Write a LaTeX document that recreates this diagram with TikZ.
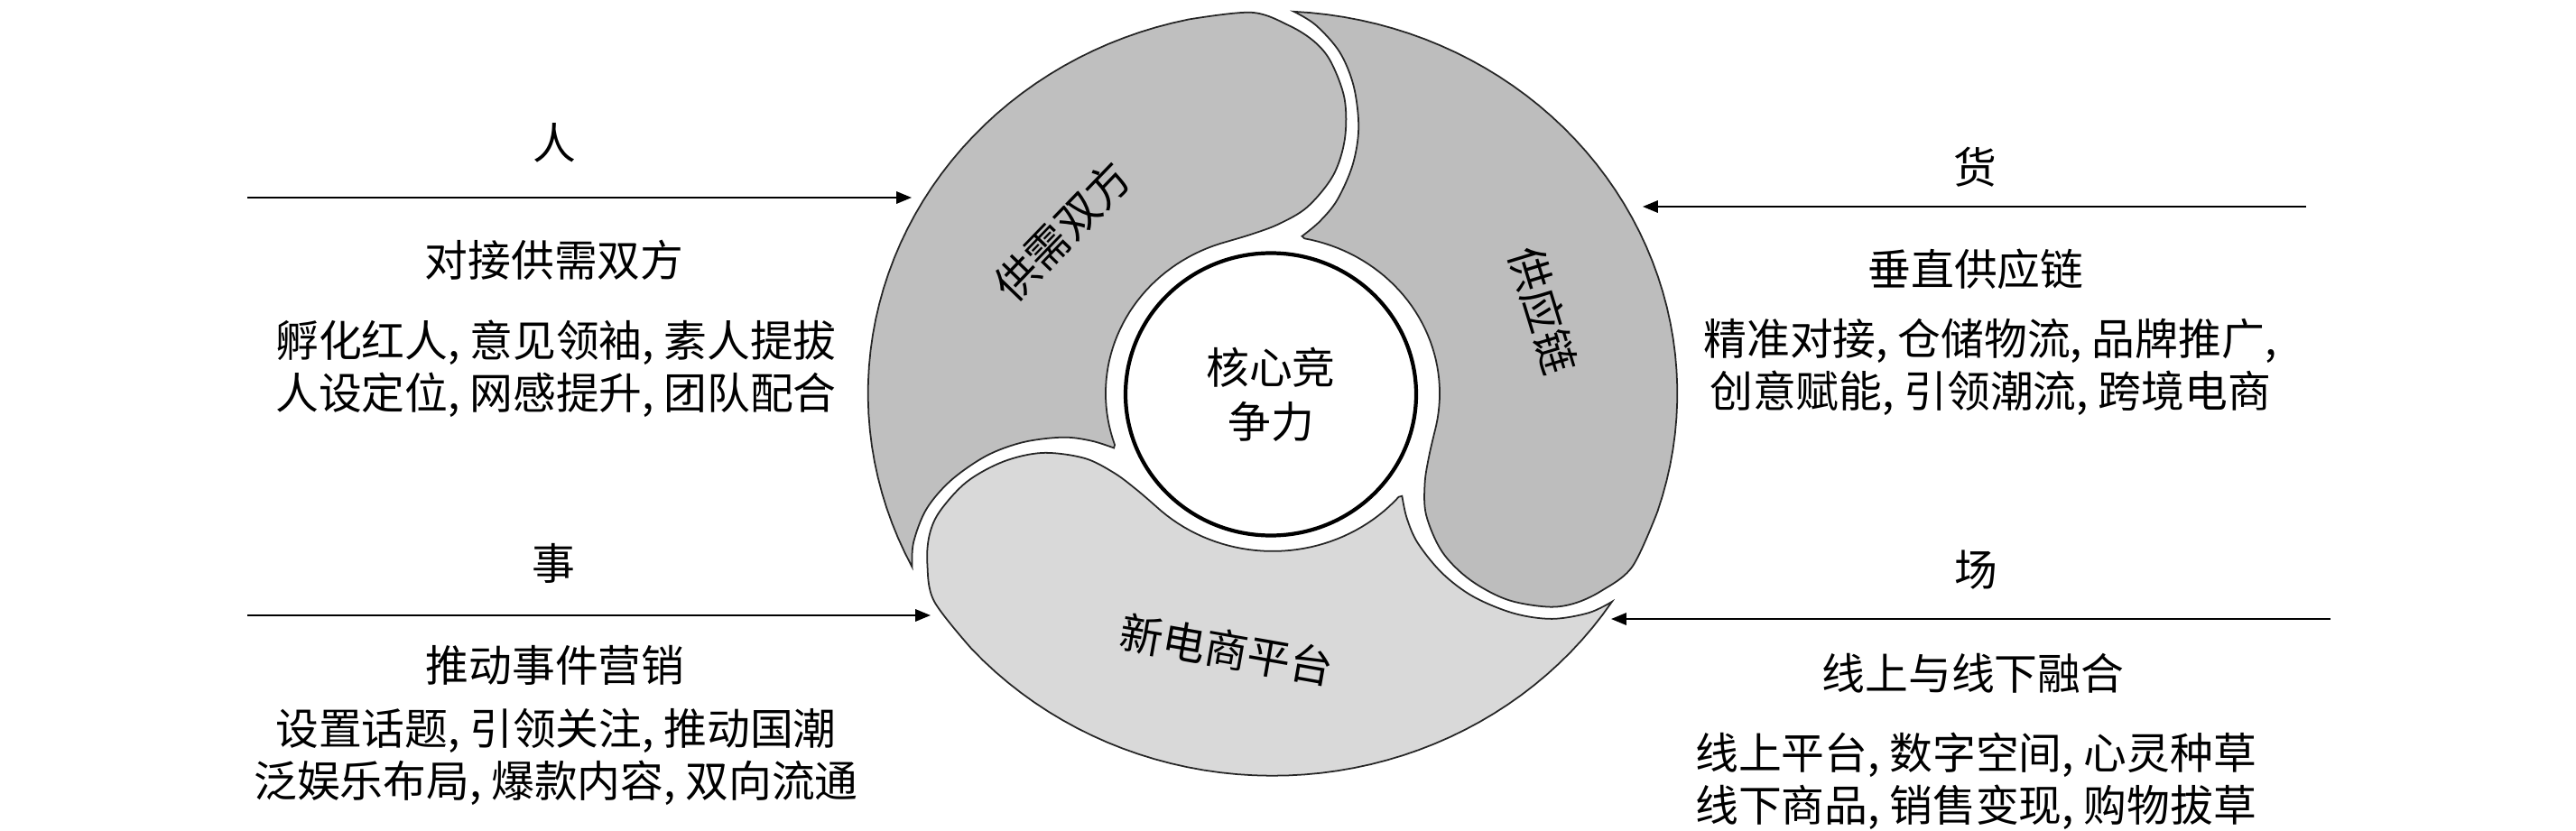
\documentclass[tikz,border=0pt]{standalone}
\usepackage{fontspec}
\setmainfont{Noto Sans CJK SC}
\usetikzlibrary{arrows.meta, shapes.geometric}

% one blade of the swirl, centre at origin, radius in px
\newcommand{\swirlpiece}{%
  plot[domain=327:222, samples=45] (\x:424)
  -- plot[smooth, tension=0.55] coordinates {(222:424) (213:423) (207.5:408) (203.5:392) (200.5:372) (197:335) (195:292) (195.3:250) (200:210) (208:188) (217:178) (226:175)}
  -- plot[domain=226:319, samples=40] (\x:175)
  -- plot[smooth, tension=0.55] coordinates {(320:177) (315.5:197) (312.5:225) (311.7:267) (313:308) (316:351) (319.5:385) (323.7:411) (327:424)}
  -- cycle}

\begin{document}
\begin{tikzpicture}[
    lbl/.style={font=\fontsize{13.6pt}{16.5pt}\selectfont, inner sep=0pt, align=center},
    flow/.style={-{Triangle[length=4.8pt,width=3.8pt]}, line width=0.6pt},
    blade/.style={draw=black!85, line width=0.5pt}]
\useasboundingbox (0,0) rectangle (28.54,9.2);

% swirl
\begin{scope}[shift={(14.10,4.84)}, xscale=1.058, x=0.01cm, y=0.01cm]
  \begin{scope}[rotate=0]
    \filldraw[blade, fill=black!15] \swirlpiece;
  \end{scope}
  \begin{scope}[rotate=120]
    \filldraw[blade, fill=black!26] \swirlpiece;
  \end{scope}
  \begin{scope}[rotate=240]
    \filldraw[blade, fill=black!25] \swirlpiece;
  \end{scope}
\end{scope}

\node[ellipse, draw, line width=1.2pt, fill=white, minimum width=3.22cm, minimum height=3.13cm, lbl, font=\fontsize{13.6pt}{17pt}\selectfont] (core) at (14.08,4.83) {核心竞\\争力};

\node[lbl, rotate=46] (gxsf) at (11.77,6.64) {供需双方};
\node[lbl, rotate=-73] (gyl) at (17.10,5.76) {供应链};
\node[lbl, rotate=-10] (xdsp) at (13.59,2.00) {新电商平台};

% ren
\node[lbl] (ren) at (6.14,7.62) {人};
\coordinate (renA) at (2.74,7.01);
\coordinate (renB) at (10.10,7.01);
\draw[flow] (renA) -- (renB);
\node[lbl] (ren1) at (6.14,6.32) {对接供需双方};
\node[lbl] (ren2) at (6.16,5.115) {孵化红人, 意见领袖, 素人提拔\\人设定位, 网感提升, 团队配合};

% huo
\node[lbl] (huo) at (21.88,7.35) {货};
\coordinate (huoA) at (25.55,6.91);
\coordinate (huoB) at (18.20,6.91);
\draw[flow] (huoA) -- (huoB);
\node[lbl] (huo1) at (21.89,6.22) {垂直供应链};
\node[lbl] (huo2) at (22.05,5.135) {精准对接, 仓储物流, 品牌推广,\\创意赋能, 引领潮流, 跨境电商};

% shi
\node[lbl] (shi) at (6.13,2.96) {事};
\coordinate (shiA) at (2.74,2.38);
\coordinate (shiB) at (10.31,2.38);
\draw[flow] (shiA) -- (shiB);
\node[lbl] (shi1) at (6.15,1.83) {推动事件营销};
\node[lbl] (shi2) at (6.16,0.815) {设置话题, 引领关注, 推动国潮\\泛娱乐布局, 爆款内容, 双向流通};

% chang
\node[lbl] (chang) at (21.89,2.88) {场};
\coordinate (changA) at (25.82,2.34);
\coordinate (changB) at (17.85,2.34);
\draw[flow] (changA) -- (changB);
\node[lbl] (chang1) at (21.86,1.74) {线上与线下融合};
\node[lbl] (chang2) at (21.89,0.545) {线上平台, 数字空间, 心灵种草\\线下商品, 销售变现, 购物拔草};
\end{tikzpicture}
\end{document}
